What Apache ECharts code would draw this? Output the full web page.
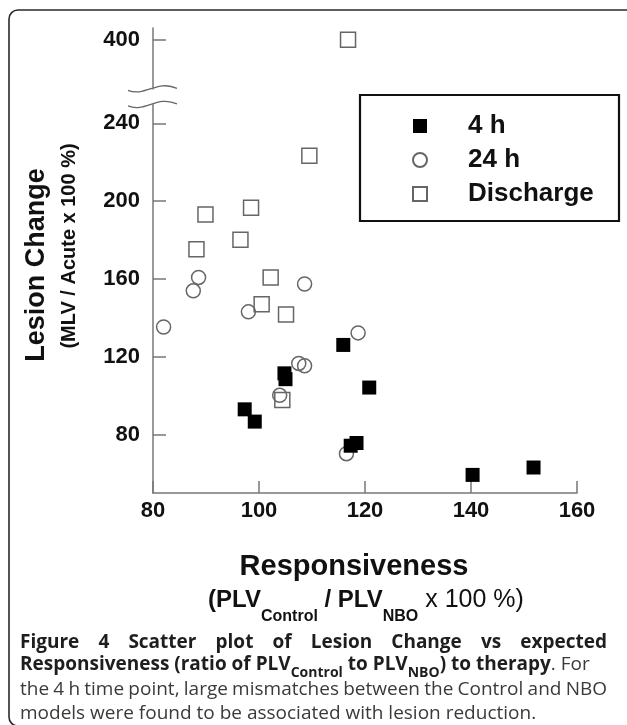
<!DOCTYPE html>
<html>
<head>
<meta charset="utf-8">
<script src="https://cdn.jsdelivr.net/npm/echarts@6/dist/echarts.min.js"></script>
<style>
  html, body { margin: 0; padding: 0; background: #fff; }
  #chart { width: 627px; height: 725px; }
</style>
</head>
<body>
<div id="chart"></div>
<script>
// [responsiveness %, lesion change %]
const hours4 = [
  [115.9, 126.1], [104.8, 111.5], [105.0, 108.5], [97.3, 93.0], [99.2, 86.7],
  [120.8, 104.2], [117.3, 74.3], [118.4, 75.7], [140.3, 59.3], [151.8, 63.1]
];
const hours24 = [
  [88.6, 160.8], [87.6, 153.9], [98.0, 143.1], [108.6, 157.4], [82.0, 135.3],
  [118.7, 132.3], [107.5, 116.6], [108.6, 115.4], [103.9, 100.2], [116.5, 70.2]
];
const discharge = [
  [116.8, 400], [109.5, 223.4], [89.9, 193.1], [98.5, 196.6], [88.2, 175.3],
  [96.5, 180.2], [102.2, 160.8], [100.5, 147.0], [105.1, 141.8], [104.4, 97.8]
];
const legendNames = ['4 h', '24 h', 'Discharge'];
const yTicks = [80, 120, 160, 200, 240, 400];
const yBreak = { start: 250, end: 375, gap: 8 };

const captionLine1 = ['Figure', '4', 'Scatter', 'plot', 'of', 'Lesion', 'Change', 'vs', 'expected'];
const captionLine3 = ['the', '4', 'h', 'time', 'point,', 'large', 'mismatches', 'between', 'the', 'Control', 'and', 'NBO'];
const captionLine4 = 'models were found to be associated with lesion reduction.';

const chart = echarts.init(document.getElementById('chart'));
const axisFont = 'Liberation Sans';
const capFont = 'Open Sans';
const capSize = 19;
const axisColor = '#777';

// spread words over a fixed width, like the justified caption
const measure = document.createElement('canvas').getContext('2d');
function justify(words, weight, size, color, y, x0, x1, prefix) {
  const font = weight + ' ' + size + 'px "' + capFont + '"';
  measure.font = font;
  const widths = words.map(w => measure.measureText(w).width);
  const total = widths.reduce((a, b) => a + b, 0);
  const gap = (x1 - x0 - total) / (words.length - 1);
  let x = x0;
  return words.map((w, i) => {
    const el = {
      type: 'text', id: prefix + i, x: x, y: y,
      style: { text: w, fill: color, font: font, verticalAlign: 'middle' }
    };
    x += widths[i] + gap;
    return el;
  });
}

const frame = {
  type: 'rect', id: 'frame', silent: true,
  shape: { x: 9, y: 10, width: 700, height: 716, r: 9 },
  style: { fill: 'none', stroke: '#2a2a2a', lineWidth: 1.6 }
};
const legendBox = {
  type: 'rect', id: 'legendBox', silent: true,
  shape: { x: 360, y: 95, width: 259, height: 126 },
  style: { fill: 'none', stroke: '#111', lineWidth: 2.2 }
};
const yTitle = {
  type: 'text', id: 'yTitle', x: 37, y: 265, rotation: Math.PI / 2,
  style: { text: 'Lesion Change', font: 'bold 27px "' + axisFont + '"', fill: '#111', align: 'center', verticalAlign: 'middle' }
};
const ySub = {
  type: 'text', id: 'ySub', x: 69, y: 246, rotation: Math.PI / 2,
  style: { text: '(MLV / Acute x 100 %)', font: 'bold 20px "' + axisFont + '"', fill: '#111', align: 'center', verticalAlign: 'middle' }
};
const xTitle = {
  type: 'text', id: 'xTitle', x: 354, y: 567,
  style: { text: 'Responsiveness', font: 'bold 29px "' + axisFont + '"', fill: '#111', align: 'center', verticalAlign: 'middle' }
};
const xSub = {
  type: 'text', id: 'xSub', x: 366, y: 588,
  style: {
    text: '{b|(PLV}{s|Control}{b| / PLV}{s|NBO}{r| x 100 %)}',
    align: 'center', verticalAlign: 'top',
    rich: {
      b: { fontFamily: axisFont, fontWeight: 'bold', fontSize: 24, lineHeight: 30, verticalAlign: 'top', fill: '#111' },
      r: { fontFamily: axisFont, fontSize: 25, lineHeight: 30, verticalAlign: 'top', fill: '#111' },
      s: { fontFamily: axisFont, fontWeight: 'bold', fontSize: 16, lineHeight: 20, padding: [21, 0, 0, 0], verticalAlign: 'top', fill: '#111' }
    }
  }
};
const cap2 = {
  type: 'text', id: 'cap2', x: 20, y: 667,
  style: {
    text: '{b|Responsiveness (ratio of PLV}{s|Control}{b| to PLV}{s|NBO}{b|) to therapy}{r|. For}',
    verticalAlign: 'middle',
    rich: {
      b: { fontFamily: capFont, fontWeight: 'bold', fontSize: capSize, lineHeight: 24, verticalAlign: 'top', fill: '#1e1e1e' },
      r: { fontFamily: capFont, fontSize: capSize, lineHeight: 24, verticalAlign: 'top', fill: '#3a3a3a' },
      s: { fontFamily: capFont, fontWeight: 'bold', fontSize: 14, lineHeight: 18, padding: [11, 0, 0, 0], verticalAlign: 'top', fill: '#1e1e1e' }
    }
  }
};
const cap4 = {
  type: 'text', id: 'cap4', x: 20, y: 714,
  style: { text: captionLine4, font: capSize + 'px "' + capFont + '"', fill: '#3a3a3a', verticalAlign: 'middle' }
};

const graphics = [frame, legendBox, yTitle, ySub, xTitle, xSub, cap2, cap4]
  .concat(justify(captionLine1, 'bold', capSize, '#1e1e1e', 643, 20, 607, 'c1_'))
  .concat(justify(captionLine3, 'normal', capSize, '#3a3a3a', 690, 20, 607, 'c3_'));

const openStyle = { color: 'rgba(0,0,0,0)', borderColor: '#666', borderWidth: 1.5, opacity: 1 };

chart.setOption({
  animation: false,
  backgroundColor: '#fff',
  grid: { left: 153, right: 50, top: 28, bottom: 232 },
  legend: {
    orient: 'vertical', left: 412, top: 113, padding: 0,
    itemWidth: 14, itemHeight: 14, itemGap: 8,
    selectedMode: false,
    data: legendNames,
    textStyle: { fontFamily: axisFont, fontSize: 26, fontWeight: 'bold', color: '#111', lineHeight: 25, padding: [0, 0, 0, 36] }
  },
  xAxis: {
    type: 'value', min: 80, max: 160, interval: 20,
    axisLine: { onZero: false, lineStyle: { color: axisColor, width: 1.5 } },
    axisTick: { inside: true, length: 12, lineStyle: { color: axisColor, width: 1.5 } },
    axisLabel: { fontFamily: axisFont, fontSize: 22, fontWeight: 'bold', color: '#111', margin: 7 },
    splitLine: { show: false }
  },
  yAxis: {
    type: 'value', min: 50, max: 406,
    breaks: [yBreak],
    breakArea: {
      show: false,
      itemStyle: { color: 'rgba(0,0,0,0)', borderColor: 'rgba(0,0,0,0)', borderWidth: 0, opacity: 0 },
      expandOnClick: false
    },
    axisLine: { show: true, onZero: false, lineStyle: { color: axisColor, width: 1.5 } },
    axisTick: { inside: true, length: 13, customValues: yTicks, lineStyle: { color: axisColor, width: 1.5 } },
    axisLabel: { customValues: yTicks, fontFamily: axisFont, fontSize: 22, fontWeight: 'bold', color: '#111', margin: 13 },
    splitLine: { show: false }
  },
  series: [
    { name: 'Discharge', type: 'scatter', symbol: 'rect', symbolSize: 15, itemStyle: openStyle, data: discharge },
    { name: '24 h', type: 'scatter', symbol: 'circle', symbolSize: 14, itemStyle: openStyle, data: hours24 },
    { name: '4 h', type: 'scatter', symbol: 'rect', symbolSize: 14, itemStyle: { color: '#000', opacity: 1 }, data: hours4 }
  ],
  graphic: graphics
});

// break marks drawn where the axis break actually lands
const ax = chart.convertToPixel({ xAxisIndex: 0 }, 80);
const yLo = chart.convertToPixel({ yAxisIndex: 0 }, yBreak.start);
const yHi = chart.convertToPixel({ yAxisIndex: 0 }, yBreak.end);
function squiggle(id, y) {
  return {
    type: 'bezierCurve', id: id, silent: true,
    shape: { x1: ax - 25, y1: y + 2, cpx1: ax - 8, cpy1: y + 9, cpx2: ax + 4, cpy2: y - 9, x2: ax + 24, y2: y },
    style: { stroke: '#666', lineWidth: 1.3, fill: 'none' }
  };
}
chart.setOption({ graphic: [squiggle('brkHi', yHi), squiggle('brkLo', yLo)] });
</script>
</body>
</html>
